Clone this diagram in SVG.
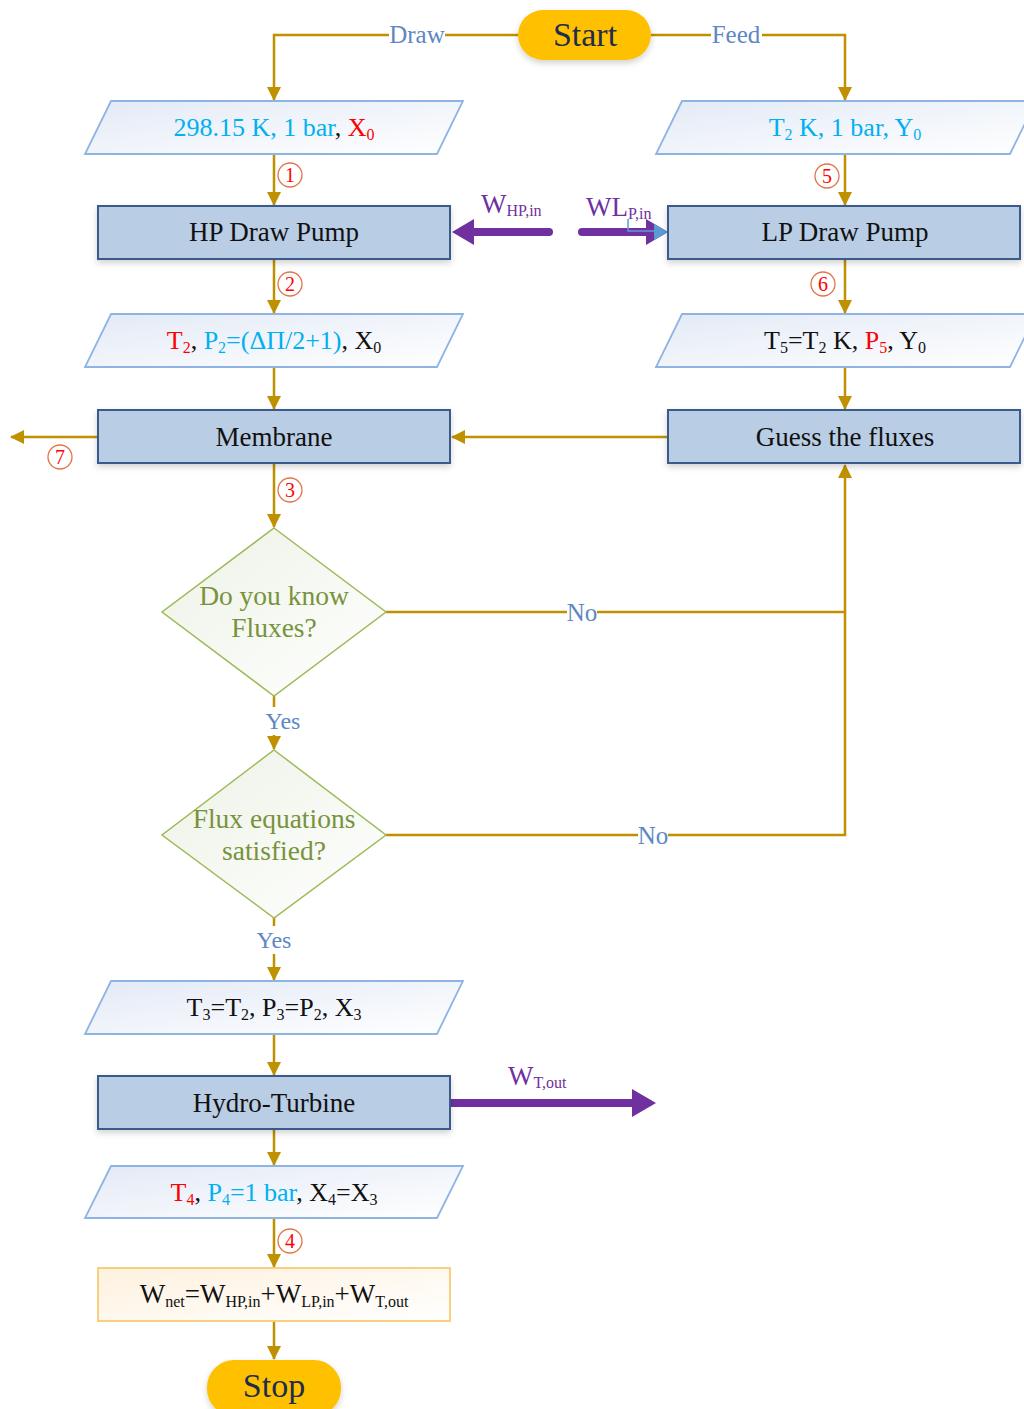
<svg xmlns="http://www.w3.org/2000/svg" width="1024" height="1409" viewBox="0 0 1024 1409">
  <defs>
    <linearGradient id="gPara" x1="0" y1="0" x2="1" y2="1">
      <stop offset="0" stop-color="#E3EAF6"/>
      <stop offset="1" stop-color="#FFFFFF"/>
    </linearGradient>
    <linearGradient id="gDiam" x1="0" y1="0" x2="1" y2="1">
      <stop offset="0" stop-color="#EDF2E6"/>
      <stop offset="1" stop-color="#FFFFFF"/>
    </linearGradient>
    <linearGradient id="gNet" x1="0" y1="0" x2="1" y2="1">
      <stop offset="0" stop-color="#FEF1DE"/>
      <stop offset="1" stop-color="#FFFFFF"/>
    </linearGradient>
    <filter id="shadow" x="-10%" y="-20%" width="120%" height="150%">
      <feDropShadow dx="0" dy="3" stdDeviation="3" flood-color="#000" flood-opacity="0.18"/>
    </filter>
    <marker id="ah" markerUnits="userSpaceOnUse" markerWidth="14" markerHeight="14" viewBox="0 0 14 14" refX="13" refY="7" orient="auto">
      <path d="M0,0 L14,7 L0,14 Z" fill="#BF9000"/>
    </marker>
  </defs>
  <style>
    .conn { fill: none; stroke: #BF9000; stroke-width: 2.5; }
    .para { fill: url(#gPara); stroke: #8EB4E3; stroke-width: 1.8; }
    .proc { fill: #B9CDE5; stroke: #3B5A8C; stroke-width: 2; filter: url(#shadow); }
    .diam { fill: url(#gDiam); stroke: #9BBB59; stroke-width: 1.5; }
    .term { fill: #FFC000; filter: url(#shadow); }
    .serif { font-family: "Liberation Serif", "DejaVu Serif", serif; text-anchor: middle; }
    .box { font-size: 27px; fill: #111111; }
    .val { font-size: 26px; fill: #111111; }
    .ttl { font-size: 34px; fill: #1F2D4D; }
    .dtxt { font-size: 27.5px; fill: #77933C; }
    .lbl { font-size: 25px; fill: #5E87C4; }
    .yes { font-size: 24px; fill: #5E87C4; }
    .num { font-size: 20px; fill: #FF0000; }
    .ring { fill: #FFFFFF; stroke: #E2744B; stroke-width: 1.3; }
    .work { font-family: "Liberation Serif", "DejaVu Serif", serif; font-size: 27px; fill: #7030A0; }
    .pw { stroke: #7030A0; stroke-width: 8; stroke-linecap: round; }
    .pwh { fill: #7030A0; }
    .cy { fill: #00B0F0; }
    .rd { fill: #FF0000; }
    .bk { fill: #111111; }
    .sub { font-size: 16px; }
  </style>

  <!-- flow connectors -->
  <g id="connectors">
    <path class="conn" d="M518,35 H274 V100" marker-end="url(#ah)"/>
    <path class="conn" d="M651,35 H845 V100" marker-end="url(#ah)"/>
    <path class="conn" d="M274,154 V205" marker-end="url(#ah)"/>
    <path class="conn" d="M845,154 V205" marker-end="url(#ah)"/>
    <path class="conn" d="M274,259 V313" marker-end="url(#ah)"/>
    <path class="conn" d="M845,259 V313" marker-end="url(#ah)"/>
    <path class="conn" d="M274,367 V409" marker-end="url(#ah)"/>
    <path class="conn" d="M845,367 V409" marker-end="url(#ah)"/>
    <path class="conn" d="M668,437 H452" marker-end="url(#ah)"/>
    <path class="conn" d="M98,437 H11" marker-end="url(#ah)"/>
    <path class="conn" d="M274,463 V527" marker-end="url(#ah)"/>
    <path class="conn" d="M386,612 H845 V465" marker-end="url(#ah)"/>
    <path class="conn" d="M386,835 H845 V612"/>
    <path class="conn" d="M274,696 V749" marker-end="url(#ah)"/>
    <path class="conn" d="M274,918 V980" marker-end="url(#ah)"/>
    <path class="conn" d="M274,1034 V1075" marker-end="url(#ah)"/>
    <path class="conn" d="M274,1129 V1165" marker-end="url(#ah)"/>
    <path class="conn" d="M274,1218 V1267" marker-end="url(#ah)"/>
    <path class="conn" d="M274,1321 V1359" marker-end="url(#ah)"/>

    <!-- branch labels -->
    <rect x="389" y="22" width="56" height="26" fill="#FFFFFF"/>
    <text class="serif lbl" x="417" y="43">Draw</text>
    <rect x="711" y="22" width="51" height="26" fill="#FFFFFF"/>
    <text class="serif lbl" x="736" y="43">Feed</text>
    <rect x="567" y="600" width="30" height="24" fill="#FFFFFF"/>
    <text class="serif lbl" x="582" y="621">No</text>
    <rect x="638" y="823" width="30" height="24" fill="#FFFFFF"/>
    <text class="serif lbl" x="653" y="844">No</text>
    <rect x="264" y="707" width="38" height="28" fill="#FFFFFF"/>
    <text class="serif yes" x="283" y="729">Yes</text>
    <rect x="255" y="926" width="38" height="28" fill="#FFFFFF"/>
    <text class="serif yes" x="274" y="948">Yes</text>

    <!-- stream numbers -->
    <circle class="ring" cx="290" cy="175" r="12"/><text class="serif num" x="290" y="182">1</text>
    <circle class="ring" cx="290" cy="284" r="12"/><text class="serif num" x="290" y="291">2</text>
    <circle class="ring" cx="290" cy="490" r="12"/><text class="serif num" x="290" y="497">3</text>
    <circle class="ring" cx="290" cy="1241" r="12"/><text class="serif num" x="290" y="1248">4</text>
    <circle class="ring" cx="827" cy="176" r="12"/><text class="serif num" x="827" y="183">5</text>
    <circle class="ring" cx="823" cy="284" r="12"/><text class="serif num" x="823" y="291">6</text>
    <circle class="ring" cx="60" cy="457" r="12"/><text class="serif num" x="60" y="464">7</text>
  </g>

  <!-- work streams -->
  <g id="work-arrows">
    <line class="pw" x1="549" y1="232" x2="470" y2="232"/>
    <polygon class="pwh" points="452,232 474,219 474,245"/>
    <text class="work" x="481" y="213">W<tspan class="sub" dy="3">HP,in</tspan></text>

    <line class="pw" x1="582" y1="232" x2="648" y2="232"/>
    <polygon class="pwh" points="668,232 646,219 646,245"/>
    <polygon points="668,232 654,224 654,240" fill="#5B9BD5"/>
    <path d="M628,219 V231 H656" fill="none" stroke="#5B9BD5" stroke-width="1.5"/>
    <text class="work" x="586" y="216">WL<tspan class="sub" dy="3">P,in</tspan></text>

    <line class="pw" x1="451" y1="1103" x2="634" y2="1103"/>
    <polygon class="pwh" points="656,1103 632,1089 632,1117"/>
    <text class="work" x="508" y="1085">W<tspan class="sub" dy="3">T,out</tspan></text>
  </g>

  <g id="start">
    <rect class="term" x="518" y="10" width="133" height="50" rx="25"/>
    <text class="serif ttl" x="585" y="46">Start</text>
  </g>

  <g id="draw-inlet">
    <polygon class="para" points="111,101 463,101 437,154 85,154"/>
    <text class="serif val" x="274" y="136"><tspan class="cy">298.15 K, 1 bar</tspan><tspan class="bk">, </tspan><tspan class="rd">X</tspan><tspan class="rd sub" dy="4">0</tspan></text>
  </g>

  <g id="feed-inlet">
    <polygon class="para" points="682,101 1036,101 1010,154 656,154"/>
    <text class="serif val cy" x="845" y="136">T<tspan class="sub" dy="4">2</tspan><tspan dy="-4"> K, 1 bar, Y</tspan><tspan class="sub" dy="4">0</tspan></text>
  </g>

  <g id="hp-pump">
    <rect class="proc" x="98" y="206" width="352" height="53"/>
    <text class="serif box" x="274" y="241">HP Draw  Pump</text>
  </g>

  <g id="lp-pump">
    <rect class="proc" x="668" y="206" width="352" height="53"/>
    <text class="serif box" x="845" y="241">LP Draw  Pump</text>
  </g>

  <g id="draw-pressurized">
    <polygon class="para" points="111,314 463,314 437,367 85,367"/>
    <text class="serif val" x="274" y="349"><tspan class="rd">T</tspan><tspan class="rd sub" dy="4">2</tspan><tspan class="bk" dy="-4">, </tspan><tspan class="cy">P</tspan><tspan class="cy sub" dy="4">2</tspan><tspan class="cy" dy="-4">=(ΔΠ/2+1)</tspan><tspan class="bk">, X</tspan><tspan class="bk sub" dy="4">0</tspan></text>
  </g>

  <g id="feed-pressurized">
    <polygon class="para" points="682,314 1036,314 1010,367 656,367"/>
    <text class="serif val" x="845" y="349"><tspan class="bk">T</tspan><tspan class="bk sub" dy="4">5</tspan><tspan class="bk" dy="-4">=T</tspan><tspan class="bk sub" dy="4">2</tspan><tspan class="bk" dy="-4"> K,  </tspan><tspan class="rd">P</tspan><tspan class="rd sub" dy="4">5</tspan><tspan class="bk" dy="-4">, Y</tspan><tspan class="bk sub" dy="4">0</tspan></text>
  </g>

  <g id="membrane">
    <rect class="proc" x="98" y="410" width="352" height="53"/>
    <text class="serif box" x="274" y="446">Membrane</text>
  </g>

  <g id="guess-fluxes">
    <rect class="proc" x="668" y="410" width="352" height="53"/>
    <text class="serif box" x="845" y="446">Guess the fluxes</text>
  </g>

  <g id="know-fluxes">
    <polygon class="diam" points="274,528 386,612 274,696 162,612"/>
    <text class="serif dtxt" x="274" y="605">Do you know</text>
    <text class="serif dtxt" x="274" y="637">Fluxes?</text>
  </g>

  <g id="flux-check">
    <polygon class="diam" points="274,750 386,835 274,918 162,835"/>
    <text class="serif dtxt" x="274" y="828">Flux equations</text>
    <text class="serif dtxt" x="274" y="860">satisfied?</text>
  </g>

  <g id="membrane-outlet">
    <polygon class="para" points="111,981 463,981 437,1034 85,1034"/>
    <text class="serif val" x="274" y="1016">T<tspan class="sub" dy="4">3</tspan><tspan dy="-4">=T</tspan><tspan class="sub" dy="4">2</tspan><tspan dy="-4">, P</tspan><tspan class="sub" dy="4">3</tspan><tspan dy="-4">=P</tspan><tspan class="sub" dy="4">2</tspan><tspan dy="-4">, X</tspan><tspan class="sub" dy="4">3</tspan></text>
  </g>

  <g id="hydro-turbine">
    <rect class="proc" x="98" y="1076" width="352" height="53"/>
    <text class="serif box" x="274" y="1112">Hydro-Turbine</text>
  </g>

  <g id="turbine-outlet">
    <polygon class="para" points="111,1166 463,1166 437,1218 85,1218"/>
    <text class="serif val" x="274" y="1201"><tspan class="rd">T</tspan><tspan class="rd sub" dy="4">4</tspan><tspan class="bk" dy="-4">, </tspan><tspan class="cy">P</tspan><tspan class="cy sub" dy="4">4</tspan><tspan class="cy" dy="-4">=1 bar</tspan><tspan class="bk">, X</tspan><tspan class="bk sub" dy="4">4</tspan><tspan class="bk" dy="-4">=X</tspan><tspan class="bk sub" dy="4">3</tspan></text>
  </g>

  <g id="net-work">
    <rect x="98" y="1268" width="352" height="53" fill="url(#gNet)" stroke="#F8CB73" stroke-width="1.8"/>
    <text class="serif box" x="274" y="1303">W<tspan class="sub" dy="4">net</tspan><tspan dy="-4">=W</tspan><tspan class="sub" dy="4">HP,in</tspan><tspan dy="-4">+W</tspan><tspan class="sub" dy="4">LP,in</tspan><tspan dy="-4">+W</tspan><tspan class="sub" dy="4">T,out</tspan></text>
  </g>

  <g id="stop">
    <rect class="term" x="207" y="1360" width="134" height="56" rx="27"/>
    <text class="serif ttl" x="274" y="1397">Stop</text>
  </g>
</svg>
